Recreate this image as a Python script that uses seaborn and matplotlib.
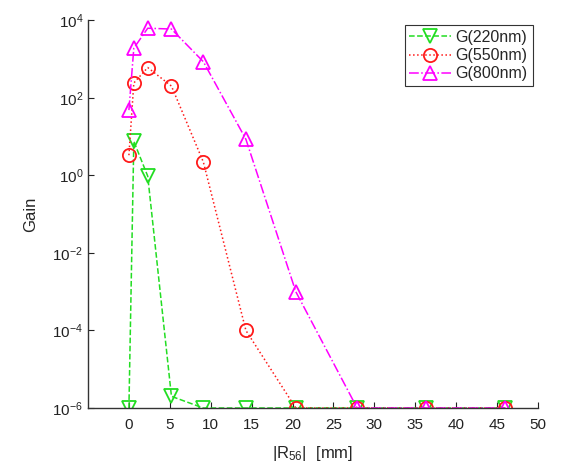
import numpy as np
import pandas as pd
import matplotlib
matplotlib.use("Agg")
import matplotlib.pyplot as plt
import seaborn as sns
from matplotlib.ticker import LogLocator, LogFormatterMathtext, NullLocator

sns.set_style("ticks")
plt.rcParams['font.family'] = ['Liberation Sans', 'DejaVu Sans']
plt.rcParams['mathtext.fontset'] = 'custom'
plt.rcParams['mathtext.rm'] = 'Liberation Sans'
plt.rcParams['mathtext.it'] = 'Liberation Sans:italic'

# Data
r56 = [0, 0.6, 2.3, 5.2, 9.1, 14.3, 20.4, 27.9, 36.3, 46.0]
g220 = [1e-6, 7.5, 0.95, 2e-6, 1e-6, 1e-6, 1e-6, 1e-6, 1e-6, 1e-6]
g550 = [3.3, 240, 600, 200, 2.2, 1e-4, 1e-6, 1e-6, 1e-6, 1e-6]
g800 = [48, 1900, 6200, 5900, 850, 8.5, 1e-3, 1e-6, 1e-6, 1e-6]

series = [
    ("G(220nm)", g220, "#22dd22", "--", "v"),
    ("G(550nm)", g550, "#ff1a1a", ":", "o"),
    ("G(800nm)", g800, "#ff00ff", "-.", "^"),
]

fig = plt.figure(figsize=(5.62, 4.69), dpi=100)
ax = fig.add_axes([0.1566, 0.130, 0.8006, 0.827])

for label, vals, col, ls, mk in series:
    df = pd.DataFrame({"x": r56, "y": vals})
    sns.lineplot(data=df, x="x", y="y", ax=ax, color=col, linestyle=ls,
                 marker=mk, markersize=9.5, markerfacecolor="none",
                 markeredgecolor=col, markeredgewidth=1.3, linewidth=1.1,
                 label=label, sort=False)

ax.set_yscale("log")
ax.set_xlim(-5, 50)
ax.set_ylim(1e-6, 1e4)
ax.set_xticks([0, 5, 10, 15, 20, 25, 30, 35, 40, 45, 50])
ax.yaxis.set_major_locator(LogLocator(base=100.0, numticks=10))
ax.yaxis.set_major_formatter(LogFormatterMathtext(base=10.0))
ax.yaxis.set_minor_locator(NullLocator())
ax.tick_params(direction="in", length=4, width=0.8, labelsize=11, colors="#222222")
ax.tick_params(axis="x", pad=7)
for s in ["top", "right"]:
    ax.spines[s].set_visible(False)
for s in ["left", "bottom"]:
    ax.spines[s].set_color("#333333")
    ax.spines[s].set_linewidth(1.0)

ax.set_xlabel(r"|R$_{56}$|  [mm]", fontsize=12, labelpad=9)
ax.set_ylabel("Gain", fontsize=12, labelpad=10)

leg = ax.legend(loc="upper right", bbox_to_anchor=(0.988, 0.987), borderaxespad=0,
                fancybox=False, framealpha=1, edgecolor="#333333", fontsize=11.5,
                handlelength=2.6, handletextpad=0.3, borderpad=0.3, labelspacing=0.2)
leg.get_frame().set_linewidth(0.8)

fig.savefig("out.png", dpi=100)
